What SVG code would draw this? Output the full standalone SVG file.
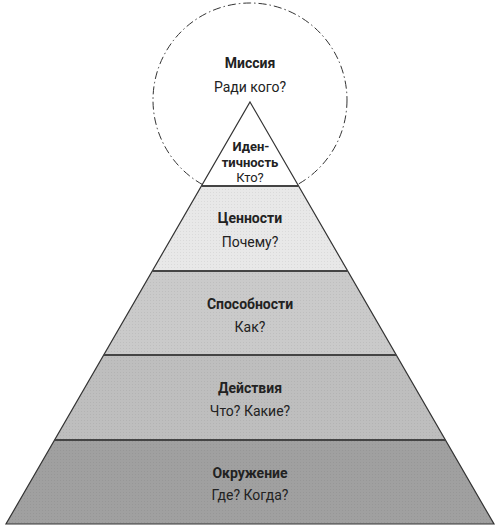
<svg xmlns="http://www.w3.org/2000/svg" width="500" height="528" viewBox="0 0 500 528">
<defs>
<pattern id="dots" width="3" height="3" patternUnits="userSpaceOnUse">
<rect x="0" y="0" width="1" height="1" fill="#000" fill-opacity="0.06"/>
</pattern>
<style>
.t{font-family:Roboto,"Liberation Sans",sans-serif;font-size:14px;fill:#222;text-anchor:middle}
.b{font-weight:bold}
.s{font-size:13px}
.edge{fill:none;stroke:#333;stroke-width:1.2}
.sep{stroke:#444;stroke-width:2}
</style>
</defs>
<rect width="500" height="528" fill="#fff"/>
<g id="mission">
<circle cx="250" cy="100" r="97" fill="none" stroke="#333" stroke-width="1" stroke-dasharray="8 3 1.5 3"/>
<text class="t b" x="250" y="68">Миссия</text>
<text class="t" x="250" y="92">Ради кого?</text>
</g>
<g id="identity">
<polygon points="250,102 201.5,186 298.5,186" fill="#fff"/>
<text class="t b s" x="251" y="151">Иден-</text>
<text class="t b s" x="250" y="166.5">тичность</text>
<text class="t s" x="250" y="182">Кто?</text>
</g>
<g id="values">
<polygon points="201.5,186 298.5,186 347.7,271 152.3,271" fill="#e8e8e8"/>
<polygon points="201.5,186 298.5,186 347.7,271 152.3,271" fill="url(#dots)"/>
<text class="t b" x="250" y="223">Ценности</text>
<text class="t" x="250" y="247">Почему?</text>
</g>
<g id="abilities">
<polygon points="152.3,271 347.7,271 396.2,355 103.8,355" fill="#cacaca"/>
<polygon points="152.3,271 347.7,271 396.2,355 103.8,355" fill="url(#dots)"/>
<text class="t b" x="250" y="309">Способности</text>
<text class="t" x="250" y="332">Как?</text>
</g>
<g id="actions">
<polygon points="103.8,355 396.2,355 445.4,440 54.6,440" fill="#bebebe"/>
<polygon points="103.8,355 396.2,355 445.4,440 54.6,440" fill="url(#dots)"/>
<text class="t b" x="250" y="393">Действия</text>
<text class="t" x="250" y="416">Что? Какие?</text>
</g>
<g id="environment">
<polygon points="54.6,440 445.4,440 494,524 6,524" fill="#a0a0a0"/>
<polygon points="54.6,440 445.4,440 494,524 6,524" fill="url(#dots)"/>
<text class="t b" x="250" y="478">Окружение</text>
<text class="t" x="250" y="500">Где? Когда?</text>
</g>
<g id="connectors">
<polygon class="edge" points="250,102 494,524 6,524"/>
<line class="sep" x1="201.5" y1="186" x2="298.5" y2="186"/>
<line class="sep" x1="152.3" y1="271" x2="347.7" y2="271"/>
<line class="sep" x1="103.8" y1="355" x2="396.2" y2="355"/>
<line class="sep" x1="54.6" y1="440" x2="445.4" y2="440"/>
</g>
</svg>
